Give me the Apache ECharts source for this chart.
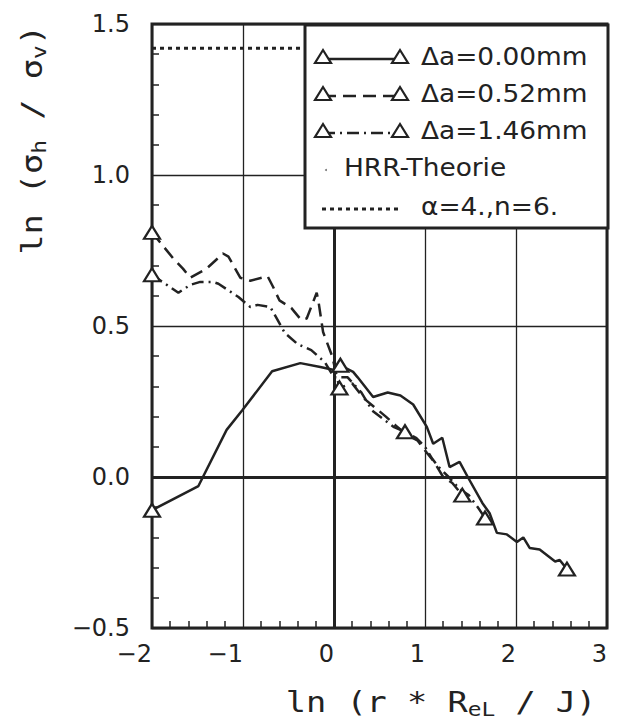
<!DOCTYPE html>
<html>
<head>
<meta charset="utf-8">
<script src="https://cdn.jsdelivr.net/npm/echarts@6/dist/echarts.min.js"></script>
<style>html,body{margin:0;padding:0;background:#fff}#c{width:620px;height:728px}</style>
</head>
<body>
<div id="c"></div>
<script>
// ---- data ----
const xTicks = [-2, -1, 0, 1, 2, 3];
const yTicks = [-0.5, 0, 0.5, 1, 1.5];
const seriesNames = ['Δa=0.00mm', 'Δa=0.52mm', 'Δa=1.46mm'];
const theoryLabel = 'HRR-Theorie';
const theoryParams = 'α=4.,n=6.';

const solid000 = [[-2,-0.11],[-1.49,-0.03],[-1.18,0.156],[-1.01,0.22],[-0.68,0.35],[-0.37,0.377],[-0.15,0.364],[0.0,0.354],[0.07,0.37],[0.21,0.348],[0.26,0.33],[0.43,0.265],[0.59,0.28],[0.73,0.27],[0.87,0.24],[1.02,0.166],[1.09,0.11],[1.19,0.13],[1.27,0.033],[1.38,0.05],[1.47,0.0],[1.63,-0.086],[1.71,-0.12],[1.79,-0.185],[1.90,-0.19],[2.01,-0.215],[2.08,-0.20],[2.15,-0.235],[2.26,-0.24],[2.43,-0.28],[2.48,-0.275],[2.56,-0.305]];
const solid000Marks = [0, 8, 31];

const dashed052 = [[-2,0.81],[-1.77,0.725],[-1.66,0.69],[-1.58,0.66],[-1.40,0.69],[-1.22,0.74],[-1.16,0.73],[-1.03,0.66],[-0.92,0.65],[-0.73,0.665],[-0.67,0.63],[-0.60,0.585],[-0.47,0.56],[-0.36,0.52],[-0.30,0.525],[-0.19,0.61],[-0.17,0.58],[-0.12,0.48],[-0.02,0.40],[0.06,0.295],[0.2,0.31],[0.33,0.26],[0.45,0.23],[0.57,0.2],[0.68,0.17],[0.8,0.14],[0.92,0.12],[1.02,0.08],[1.1,0.05],[1.2,0.0],[1.3,-0.02],[1.41,-0.06]];
const dashed052Marks = [0, 19, 31];

const dashdot146 = [[-2,0.67],[-1.71,0.61],[-1.58,0.636],[-1.47,0.646],[-1.33,0.646],[-1.27,0.64],[-1.05,0.596],[-0.92,0.563],[-0.84,0.57],[-0.70,0.563],[-0.54,0.477],[-0.40,0.44],[-0.25,0.42],[-0.1,0.38],[0.0,0.33],[0.15,0.33],[0.3,0.28],[0.42,0.22],[0.55,0.19],[0.66,0.165],[0.78,0.15],[0.9,0.13],[1.0,0.1],[1.08,0.06],[1.16,0.03],[1.26,0.0],[1.38,-0.04],[1.48,-0.06],[1.58,-0.1],[1.66,-0.136]];
const dashdot146Marks = [0, 20, 29];

const hrrTheory = [[-2,1.42],[3,1.42]];

// ---- styles ----
const INK = '#222';
const FONT = 'DejaVu Sans';
const MONO = 'DejaVu Sans Mono';
function withMarks(arr, marks) {
  return arr.map((p, i) => marks.includes(i)
    ? {value: p, symbol: 'triangle', symbolSize: [16, 13]}
    : {value: p, symbol: 'none'});
}
function fmt(v) {
  const s = Math.abs(v).toFixed(1);
  return (v < 0 ? '\u2212' : '') + s;
}
function fmtX(v) {
  return (v < 0 ? '\u2212' : '') + Math.abs(v);
}

const chart = echarts.init(document.getElementById('c'), null, {renderer: 'svg'});

const lineSeries = (name, data, marks, type) => ({
  name, type: 'line', data: withMarks(data, marks),
  showSymbol: true, symbol: 'none',
  lineStyle: {color: INK, width: 2.5, type: type},
  itemStyle: {color: '#fff', borderColor: INK, borderWidth: 2.2},
  z: 5, animation: false
});

// legend rows
const LX = 305, LY = 25, LW = 303, LH = 203;
const rowY = [57, 94, 131, 168, 207];
const dashes = [null, [13, 7], [12, 5, 2, 5]];
const legendEls = [{
  type: 'rect', shape: {x: LX, y: LY, width: LW, height: LH},
  style: {fill: '#fff', stroke: INK, lineWidth: 3}, z: 100
}];
function tri(cx, cy) {
  return {type: 'polygon', shape: {points: [[cx - 8, cy + 6], [cx + 8, cy + 6], [cx, cy - 7]]},
    style: {fill: '#fff', stroke: INK, lineWidth: 2.2}, z: 102};
}
for (let i = 0; i < 3; i++) {
  const y = rowY[i];
  legendEls.push({type: 'line', shape: {x1: 323, y1: y + 2, x2: 400, y2: y + 2},
    style: {stroke: INK, lineWidth: 2.5, lineDash: dashes[i]}, z: 101});
  legendEls.push(tri(323, y));
  legendEls.push(tri(400, y));
  legendEls.push({type: 'text', x: 421, y: y, scaleX: 1.1,
    style: {text: seriesNames[i], font: '24px ' + FONT, fill: INK, align: 'left', verticalAlign: 'middle'}, z: 102});
}
legendEls.push({type: 'circle', shape: {cx: 326, cy: rowY[3] + 2, r: 1}, style: {fill: '#777'}, z: 102});
legendEls.push({type: 'text', x: 344, y: rowY[3], scaleX: 1.1,
  style: {text: theoryLabel, font: '24px ' + FONT, fill: INK, align: 'left', verticalAlign: 'middle'}, z: 102});
legendEls.push({type: 'line', shape: {x1: 322, y1: rowY[4] + 2, x2: 400, y2: rowY[4] + 2},
  style: {stroke: INK, lineWidth: 3, lineDash: [4, 4]}, z: 101});
legendEls.push({type: 'text', x: 421, y: rowY[4], scaleX: 1.1,
  style: {text: theoryParams, font: '24px ' + FONT, fill: INK, align: 'left', verticalAlign: 'middle'}, z: 102});

// axis titles
const subRich = {s: {fontSize: 19, fontFamily: MONO, padding: [15, 0, 0, 0], fill: INK}};
legendEls.push({type: 'text', x: 32, y: 140, rotation: Math.PI / 2, scaleX: 1.2,
  style: {text: 'ln (σ{s|h} / σ{s|v})', font: '28px ' + MONO, fill: INK, align: 'center', verticalAlign: 'middle',
    rich: subRich}, z: 102});
legendEls.push({type: 'text', x: 441, y: 702, scaleX: 1.2,
  style: {text: 'ln (r * R{s|eL} / J)', font: '28px ' + MONO, fill: INK, align: 'center', verticalAlign: 'middle',
    rich: subRich}, z: 102});

const option = {
  animation: false,
  backgroundColor: '#fff',
  grid: {left: 152, right: 13, top: 24, bottom: 100, show: true, borderColor: INK, borderWidth: 3, backgroundColor: 'transparent'},
  xAxis: {
    type: 'value', min: xTicks[0], max: xTicks[xTicks.length - 1], interval: 1,
    axisLine: {show: false, onZero: false},
    axisTick: {show: false, inside: true},
    minorTick: {show: true, splitNumber: 5, length: 7, lineStyle: {color: INK, width: 1.5}},
    splitLine: {show: true, lineStyle: {color: INK, width: 1.3}},
    axisLabel: {formatter: fmtX, fontFamily: FONT, fontSize: 24, color: INK, margin: 14, align: 'right'}
  },
  yAxis: {
    type: 'value', min: yTicks[0], max: yTicks[yTicks.length - 1], interval: 0.5,
    axisLine: {show: false, onZero: false},
    axisTick: {show: false, inside: true},
    minorTick: {show: true, splitNumber: 5, length: 7, lineStyle: {color: INK, width: 1.5}},
    splitLine: {show: true, lineStyle: {color: INK, width: 1.3}},
    axisLabel: {formatter: fmt, fontFamily: FONT, fontSize: 24, color: INK, margin: 22}
  },
  graphic: legendEls,
  series: [
    {
      name: 'zero', type: 'line', data: [], silent: true,
      markLine: {silent: true, symbol: 'none', label: {show: false}, animation: false,
        lineStyle: {color: INK, width: 3, type: 'solid'},
        data: [{xAxis: 0}, {yAxis: 0}]}
    },
    {
      name: theoryLabel, type: 'line', data: hrrTheory, symbol: 'none', z: 4,
      lineStyle: {color: INK, width: 3, type: [4, 4]}
    },
    lineSeries(seriesNames[0], solid000, solid000Marks, 'solid'),
    lineSeries(seriesNames[1], dashed052, dashed052Marks, [13, 7]),
    lineSeries(seriesNames[2], dashdot146, dashdot146Marks, [12, 5, 2, 5])
  ]
};
chart.setOption(option);
</script>
</body>
</html>
